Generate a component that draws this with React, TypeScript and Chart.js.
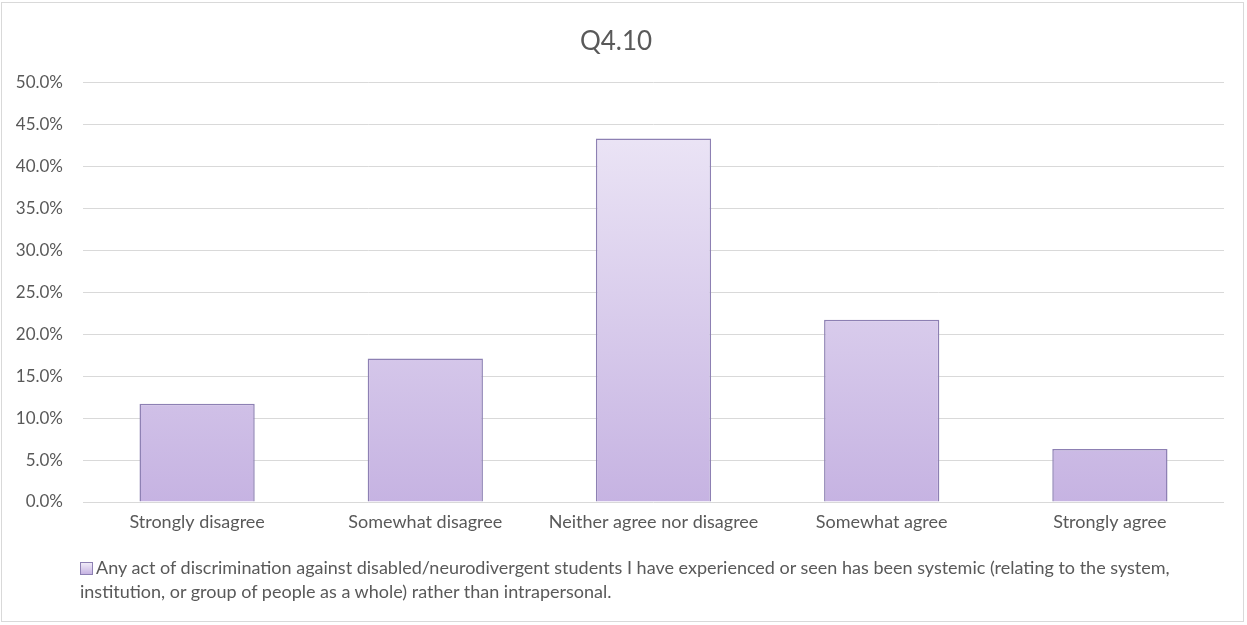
import React, { useEffect, useRef } from "react";
import { Chart, registerables } from "chart.js";

Chart.register(...registerables);

const categories = [
  "Strongly disagree",
  "Somewhat disagree",
  "Neither agree nor disagree",
  "Somewhat agree",
  "Strongly agree",
];
const values = [11.7, 17.1, 43.3, 21.7, 6.3];
const yTicks = [0, 5, 10, 15, 20, 25, 30, 35, 40, 45, 50];
const seriesLabel =
  "Any act of discrimination against disabled/neurodivergent students I have experienced or seen has been systemic (relating to the system, institution, or group of people as a whole) rather than intrapersonal.";
const titleText = "Q4.10";

const FONT = "Lato, 'Open Sans', sans-serif";
const TEXT = "#595959";

export default function App() {
  const ref = useRef<HTMLCanvasElement | null>(null);

  useEffect(() => {
    if (!ref.current) return;
    const chart = new Chart(ref.current, {
      type: "bar",
      data: {
        labels: categories,
        datasets: [
          {
            label: seriesLabel,
            data: values,
            backgroundColor: (ctx: any) => {
              const c = ctx.chart;
              const area = c.chartArea;
              if (!area) return "#dcd0ee";
              const g = c.ctx.createLinearGradient(0, area.top, 0, area.bottom);
              g.addColorStop(0, "#f0ebf8");
              g.addColorStop(1, "#c6b3e2");
              return g;
            },
            borderColor: "#8d80b3",
            borderWidth: 1.5,
            categoryPercentage: 1,
            barPercentage: 0.505,
          },
        ],
      },
      options: {
        animation: false,
        responsive: false,
        layout: { padding: { left: 8, right: 23, bottom: 83, top: 0 } },
        plugins: {
          legend: { display: false },
          tooltip: { enabled: false },
          title: {
            display: true,
            text: titleText,
            color: TEXT,
            font: { family: FONT, size: 26, weight: "normal" },
            padding: { top: 26, bottom: 25 },
          },
        },
        scales: {
          x: {
            grid: { display: false, drawTicks: false },
            border: { display: false },
            ticks: {
              color: TEXT,
              font: { family: FONT, size: 18 },
              padding: 9,
              maxRotation: 0,
            },
            afterFit: (s: any) => {
              s.height = 40;
            },
          },
          y: {
            min: 0,
            max: 50,
            afterBuildTicks: (s: any) => {
              s.ticks = yTicks.map((v) => ({ value: v }));
            },
            grid: { color: "#d9d9d9", lineWidth: 1, drawTicks: false },
            border: { display: false },
            ticks: {
              color: TEXT,
              font: { family: FONT, size: 17 },
              padding: 20,
              callback: (v: any) => Number(v).toFixed(1) + "%",
            },
            afterFit: (s: any) => {
              s.width = 75;
            },
          },
        },
      },
    });
    return () => chart.destroy();
  }, []);

  return (
    <div
      style={{
        position: "fixed",
        left: 0,
        top: 0,
        width: 1247,
        height: 625,
        background: "#ffffff",
      }}
    >
      <div
        style={{
          position: "absolute",
          left: 1,
          top: 2,
          width: 1243,
          height: 620,
          border: "1px solid #d9d9d9",
          boxSizing: "border-box",
        }}
      />
      <canvas ref={ref} width={1247} height={625} style={{ position: "absolute", left: 0, top: 0 }} />
      <div
        style={{
          position: "absolute",
          left: 80,
          top: 555,
          width: 1110,
          fontFamily: FONT,
          fontSize: 18,
          lineHeight: "24px",
          color: TEXT,
        }}
      >
        <span
          style={{
            display: "inline-block",
            width: 11,
            height: 11,
            marginRight: 3,
            verticalAlign: "-1px",
            border: "1px solid #8d80b3",
            background: "linear-gradient(#f0ebf8, #c6b3e2)",
          }}
        />
        {seriesLabel}
      </div>
    </div>
  );
}
